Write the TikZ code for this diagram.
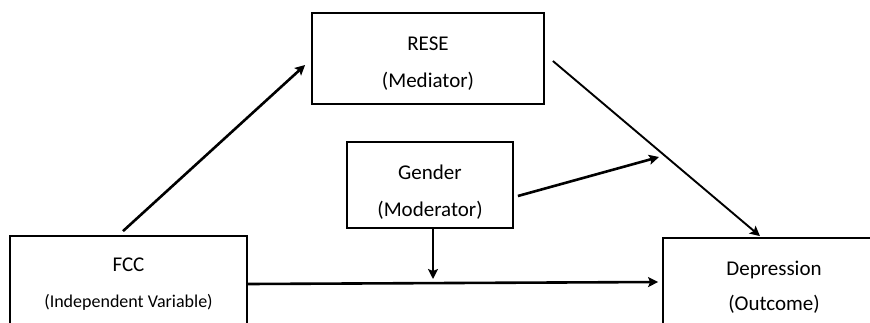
\documentclass[tikz,border=0pt]{standalone}
\usepackage{fontspec}
\setmainfont{Carlito}
\usepackage{tikz}
\usetikzlibrary{arrows.meta}

\tikzset{
	varbox/.style={draw,rectangle,line width=1.8pt,align=center,inner sep=0pt,text depth=5pt,font=\fontsize{21}{37}\selectfont},
	link/.style={-{Stealth[length=10pt,width=10pt,inset=2pt]},line width=2.6pt},
	thinlink/.style={link,line width=1.9pt}
}

\begin{document}
\begin{tikzpicture}[x=1pt,y=-1pt]
	\useasboundingbox (0,0) rectangle (870,322);
	\clip (0,0) rectangle (870,322);

	\node[varbox,minimum width=232pt,minimum height=91pt,text height=62.6pt](rese) at (428,58.5) {RESE\\(Mediator)};
	\node[varbox,minimum width=166pt,minimum height=86pt,text height=67pt](gender) at (430,185) {Gender\\(Moderator)};
	\node[varbox,minimum width=237pt,minimum height=96pt,text height=52.4pt](fcc) at (128.5,284) {FCC\\[-1pt]{\fontsize{18}{20}\selectfont(Independent Variable)}};
	\node[varbox,minimum width=222pt,minimum height=96pt,text height=53pt](dep) at (774,286) {Depression\\[-2pt](Outcome)};

	\coordinate (medtip) at (659,157);
	\coordinate (modtip) at (433,279);

	\draw[link] ([shift={(-5.5,-4)}]fcc.north) -- ([shift={(-6,6.5)}]rese.west);
	\draw[thinlink] ([shift={(8,2.5)}]rese.east) -- ([shift={(-14,-1)}]dep.north);
	\draw[link] ([shift={(4,11)}]gender.east) -- (medtip);
	\draw[thinlink] ([xshift=3pt]gender.south) -- (modtip);
	\draw[link] (fcc.east) -- ([shift={(-4,-4)}]dep.west);
\end{tikzpicture}
\end{document}
